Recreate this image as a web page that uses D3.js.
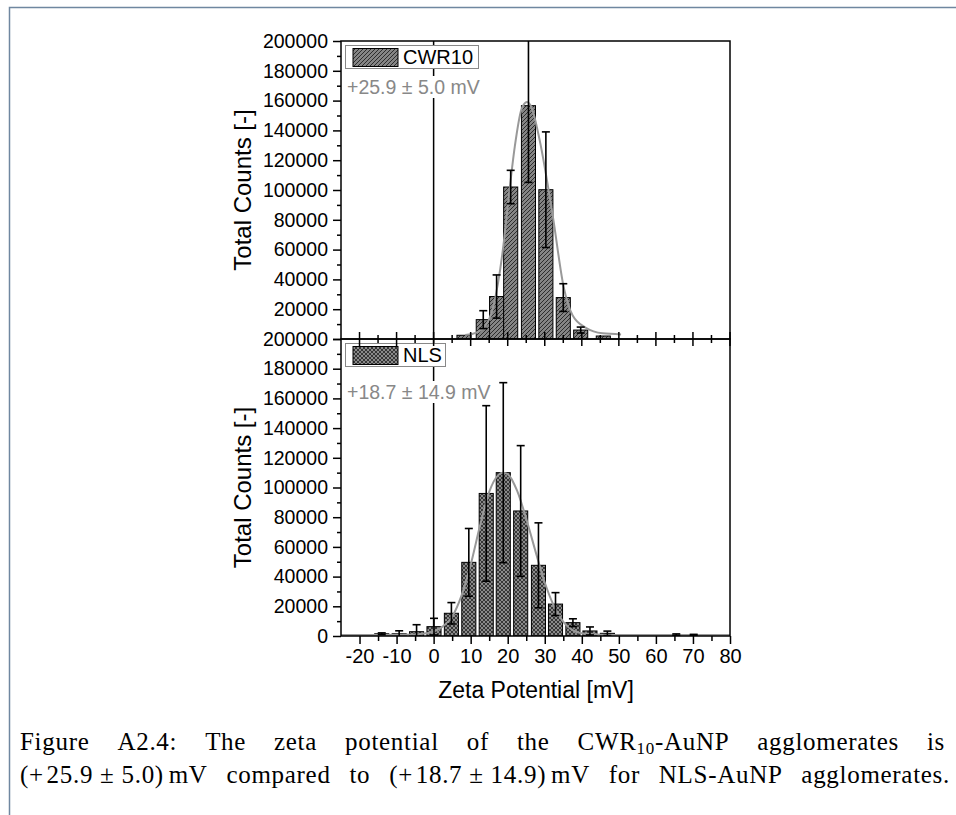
<!DOCTYPE html>
<meta charset="utf-8">
<style>
  body { margin: 0; background: #fff; }
  svg text { font-family: "Liberation Sans", Arial, sans-serif; }
  .caption text { font-family: "Liberation Serif", "Times New Roman", serif; letter-spacing: 0.7px; }
</style>
<body>
<svg id="chart" width="956" height="815"></svg>
<script src="https://cdn.jsdelivr.net/npm/d3@7"></script>
<script>

// ---- data ----
// CWR10 panel: bin centres [mV], total counts, error
var cwrZeta  = [8.2, 13.4, 17.0, 20.8, 25.6, 30.3, 35.0, 39.7, 45.8];
var cwrCount = [2500, 13000, 28500, 102000, 156600, 100200, 27800, 6000, 2000];
var cwrErr   = [0, 6000, 14500, 11200, 51500, 38800, 9300, 2000, 0];
// CWR10 fitted curve
var cwrFitX = [8.5, 10.3, 13.4, 16.1, 18.8, 20.1, 21.9, 23.7, 25.2, 26.5, 28.6, 32.2, 35.1, 37.5, 41.2, 45.6, 50.6];
var cwrFitY = [2700, 3300, 7200, 21700, 62000, 91400, 129000, 154000, 159000, 155000, 133700, 82000, 35000, 16000, 7400, 3800, 3100];

// NLS panel
var nlsZeta  = [-23.3, -18.6, -14.0, -9.3, -4.6, 0.1, 4.8, 9.5, 14.2, 18.8, 23.5, 28.3, 32.9, 37.6, 42.2, 46.9, 51.5, 56.2, 60.8, 65.5, 70.2, 74.8];
var nlsCount = [400, 700, 1500, 1500, 2900, 6300, 15300, 49600, 96000, 110000, 84200, 47600, 21500, 9000, 3400, 1800, 700, 300, 300, 900, 700, 300];
var nlsErr   = [0, 0, 600, 2000, 4700, 5600, 7200, 22800, 59100, 60600, 44000, 28600, 7700, 2600, 2700, 1500, 0, 0, 0, 500, 400, 0];
var nlsFitX = [-25, -15, -5, -2, 0, 2.5, 5, 7.5, 10, 12.5, 15, 17.5, 18.7, 20, 22.5, 25, 27.5, 30, 32.5, 35, 37.5, 40, 45, 50, 60, 80];
var nlsFitY = [600, 700, 1000, 1800, 3000, 6500, 13000, 27000, 48000, 74000, 97000, 108500, 110000, 109000, 98000, 79000, 57000, 36000, 20000, 9500, 4000, 1800, 900, 700, 600, 600];

var xTicks = [-20, -10, 0, 10, 20, 30, 40, 50, 60, 70, 80];
var yTicks = [0, 20000, 40000, 60000, 80000, 100000, 120000, 140000, 160000, 180000, 200000];

var svg = d3.select("#chart");

// page frame
svg.append("path")
    .attr("d", "M9.5,815 V7.5 H956")
    .attr("fill", "none").attr("stroke", "#6f87a0").attr("stroke-width", 1.5);

// hatch patterns
var defs = svg.append("defs");
var p1 = defs.append("pattern").attr("id", "diag")
    .attr("patternUnits", "userSpaceOnUse").attr("width", 4).attr("height", 4);
p1.append("rect").attr("width", 4).attr("height", 4).attr("fill", "#858585");
p1.append("path").attr("d", "M-1,1 L1,-1 M0,4 L4,0 M3,5 L5,3")
    .attr("stroke", "#222").attr("stroke-width", 0.9);
var p2 = defs.append("pattern").attr("id", "cross")
    .attr("patternUnits", "userSpaceOnUse").attr("width", 4).attr("height", 4);
p2.append("rect").attr("width", 4).attr("height", 4).attr("fill", "#8a8a8a");
p2.append("path").attr("d", "M0,4 L4,0 M0,0 L4,4 M-1,1 L1,-1 M3,5 L5,3 M-1,3 L1,5 M3,-1 L5,1")
    .attr("stroke", "#222").attr("stroke-width", 0.8);

var x = d3.scaleLinear().domain([-25, 80]).range([341, 730]);
var binW = 3.8;

function panel(opt) {
    var y = d3.scaleLinear().domain([0, 200000]).range([opt.y0, opt.y1]);
    var g = svg.append("g");
    var clipId = "clip" + opt.id;
    defs.append("clipPath").attr("id", clipId)
        .append("rect").attr("x", 341).attr("y", opt.y1)
        .attr("width", 730 - 341).attr("height", opt.y0 - opt.y1);
    var plot = g.append("g").attr("clip-path", "url(#" + clipId + ")");

    // zero reference line
    plot.append("line")
        .attr("x1", x(0)).attr("x2", x(0)).attr("y1", opt.y1).attr("y2", opt.y0)
        .attr("stroke", "#000").attr("stroke-width", 1.5);

    var rows = opt.zeta.map(function(z, i) { return {z: z, c: opt.count[i], e: opt.err[i]}; });

    plot.selectAll("rect.bar").data(rows).enter().append("rect")
        .attr("class", "bar")
        .attr("x", function(d) { return x(d.z - binW / 2); })
        .attr("width", x(binW) - x(0))
        .attr("y", function(d) { return y(d.c); })
        .attr("height", function(d) { return y(0) - y(d.c); })
        .attr("fill", "url(#" + opt.pattern + ")")
        .attr("stroke", "#000").attr("stroke-width", 1);

    var fit = opt.fitX.map(function(v, i) { return [v, opt.fitY[i]]; });
    plot.append("path").datum(fit)
        .attr("d", d3.line().x(function(d) { return x(d[0]); }).y(function(d) { return y(d[1]); })
            .curve(d3.curveMonotoneX))
        .attr("fill", "none").attr("stroke", "#999").attr("stroke-width", 2);

    var eb = plot.selectAll("g.err").data(rows.filter(function(d) { return d.e > 0; }))
        .enter().append("g").attr("stroke", "#000").attr("stroke-width", 1.6);
    eb.append("line")
        .attr("x1", function(d) { return x(d.z); }).attr("x2", function(d) { return x(d.z); })
        .attr("y1", function(d) { return y(d.c - d.e); }).attr("y2", function(d) { return y(d.c + d.e); });
    [-1, 1].forEach(function(s) {
        eb.append("line")
            .attr("x1", function(d) { return x(d.z) - 4; }).attr("x2", function(d) { return x(d.z) + 4; })
            .attr("y1", function(d) { return y(d.c + s * d.e); }).attr("y2", function(d) { return y(d.c + s * d.e); });
    });

    // frame
    g.append("rect").attr("x", 341).attr("y", opt.y1)
        .attr("width", 730 - 341).attr("height", opt.y0 - opt.y1)
        .attr("fill", "none").attr("stroke", "#000").attr("stroke-width", 1.5);

    // y axis (the upper panel's 0 sits under the lower panel's top label)
    var ya = g.append("g").attr("transform", "translate(341,0)")
        .call(d3.axisLeft(y).tickValues(yTicks).tickSize(8).tickPadding(5)
            .tickFormat(function(d) { return (opt.hideZero && d === 0) ? "" : String(d); }));
    ya.select(".domain").remove();
    ya.selectAll("line").attr("stroke-width", 1.5);
    ya.selectAll("text").attr("font-size", 19.5).attr("fill", "#000");
    var ym = g.append("g").attr("transform", "translate(341,0)")
        .call(d3.axisLeft(y).tickValues(d3.range(10000, 200000, 20000)).tickSize(4).tickFormat(""));
    ym.select(".domain").remove();
    ym.selectAll("line").attr("stroke-width", 1.5);

    g.append("text")
        .attr("transform", "translate(251," + ((opt.y0 + opt.y1) / 2) + ") rotate(-90)")
        .attr("text-anchor", "middle").attr("font-size", 24)
        .text("Total Counts [-]");

    // legend
    var lg = g.append("g");
    lg.append("rect").attr("x", 345.5).attr("y", opt.y1 + 4.5)
        .attr("width", opt.legW).attr("height", 23)
        .attr("fill", "#fff").attr("stroke", "#888").attr("stroke-width", 1);
    lg.append("rect").attr("x", 353).attr("y", opt.y1 + 7.5)
        .attr("width", 45).attr("height", 18)
        .attr("fill", "url(#" + opt.pattern + ")").attr("stroke", "#000").attr("stroke-width", 1);
    lg.append("text").attr("x", 403).attr("y", opt.y1 + 23)
        .attr("font-size", 20).text(opt.name);

    // value annotation on a white box
    var ann = g.append("text").attr("x", 347).attr("y", opt.annY)
        .attr("font-size", 19.5).attr("fill", "#888").text(opt.note);
    var bb = ann.node().getBBox();
    g.insert("rect", function() { return ann.node(); })
        .attr("x", bb.x - 1).attr("y", bb.y).attr("width", bb.width + 2).attr("height", bb.height)
        .attr("fill", "#fff");

    return y;
}

panel({id: 1, y0: 339, y1: 41, zeta: cwrZeta, count: cwrCount, err: cwrErr,
       fitX: cwrFitX, fitY: cwrFitY, pattern: "diag", name: "CWR10", legW: 133,
       note: "+25.9 \u00b1 5.0 mV", annY: 94, hideZero: true});
panel({id: 2, y0: 636, y1: 339, zeta: nlsZeta, count: nlsCount, err: nlsErr,
       fitX: nlsFitX, fitY: nlsFitY, pattern: "cross", name: "NLS", legW: 100,
       note: "+18.7 \u00b1 14.9 mV", annY: 399, hideZero: false});

// x ticks: crossing ticks at the panel junction
var majors = d3.range(-20, 81, 10), minors = d3.range(-15, 80, 10);
var tk = svg.append("g").attr("stroke", "#000").attr("stroke-width", 1.5);
tk.selectAll("line.maj").data(majors).enter().append("line")
    .attr("x1", function(d) { return x(d); }).attr("x2", function(d) { return x(d); })
    .attr("y1", 332).attr("y2", 346);
tk.selectAll("line.min").data(minors).enter().append("line")
    .attr("x1", function(d) { return x(d); }).attr("x2", function(d) { return x(d); })
    .attr("y1", 335).attr("y2", 343);

// bottom axis
var xa = svg.append("g").attr("transform", "translate(0,636)")
    .call(d3.axisBottom(x).tickValues(xTicks).tickSize(8).tickPadding(5)
        .tickFormat(function(d) { return String(d); }));
xa.select(".domain").remove();
xa.selectAll("line").attr("stroke-width", 1.5);
xa.selectAll("text").attr("font-size", 20).attr("fill", "#000");
var xm = svg.append("g").attr("transform", "translate(0,636)")
    .call(d3.axisBottom(x).tickValues(minors).tickSize(5).tickFormat(""));
xm.select(".domain").remove();
xm.selectAll("line").attr("stroke-width", 1.5);

svg.append("text").attr("x", 536).attr("y", 698)
    .attr("text-anchor", "middle").attr("font-size", 23)
    .text("Zeta Potential [mV]");

// caption, justified word by word
var cap = svg.append("g").attr("class", "caption");
var lines = [
    {y: 750, right: 945, words: [["Figure"], ["A2.4:"], ["The"], ["zeta"], ["potential"], ["of"], ["the"],
        ["CWR", "10", "-AuNP"], ["agglomerates"], ["is"]]},
    {y: 783, right: 950, words: [["(+\u200a25.9\u2005\u00b1\u20055.0)\u2006mV"], ["compared"], ["to"],
        ["(+\u200a18.7\u2005\u00b1\u200514.9)\u2006mV"], ["for"], ["NLS-AuNP"], ["agglomerates."]]}
];
lines.forEach(function(ln) {
    var nodes = ln.words.map(function(w) {
        var t = cap.append("text").attr("y", ln.y).attr("font-size", 25);
        if (w.length === 3) {
            t.append("tspan").text(w[0]);
            t.append("tspan").attr("font-size", 17).attr("dy", 4).text(w[1]);
            t.append("tspan").attr("dy", -4).text(w[2]);
        } else {
            t.text(w[0]);
        }
        return t;
    });
    var widths = nodes.map(function(t) { return t.node().getBBox().width; });
    var gap = (ln.right - 20 - d3.sum(widths)) / (nodes.length - 1);
    var pos = 20;
    nodes.forEach(function(t, i) { t.attr("x", pos); pos += widths[i] + gap; });
});

</script>
</body>
